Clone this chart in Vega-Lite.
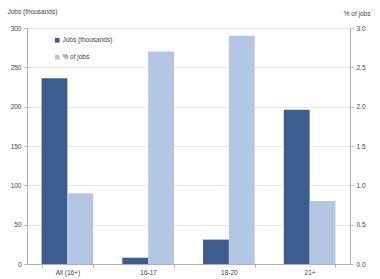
{
  "$schema": "https://vega.github.io/schema/vega-lite/v6.json",
  "width": 323,
  "height": 236,
  "autosize": {"type": "none"},
  "padding": {"left": 27, "top": 28, "right": 30, "bottom": 15},
  "background": "white",
  "config": {
    "view": {"stroke": null},
    "font": "Liberation Sans",
    "axis": {"labelFontSize": 6.5, "labelColor": "#444", "titleFontSize": 6.5, "titleFontWeight": "normal", "titleColor": "#444", "domainColor": "#b0b0b0", "tickColor": "#b0b0b0", "gridColor": "#e6e6e6"}
  },
  "data": {
    "values": [
      {"group": "All (16+)", "series": "Jobs (thousands)", "value": 236},
      {"group": "16-17", "series": "Jobs (thousands)", "value": 8},
      {"group": "18-20", "series": "Jobs (thousands)", "value": 31},
      {"group": "21+", "series": "Jobs (thousands)", "value": 196},
      {"group": "All (16+)", "series": "% of jobs", "value": 0.9},
      {"group": "16-17", "series": "% of jobs", "value": 2.7},
      {"group": "18-20", "series": "% of jobs", "value": 2.9},
      {"group": "21+", "series": "% of jobs", "value": 0.8}
    ]
  },
  "encoding": {
    "x": {"field": "group", "type": "nominal", "sort": null,
      "scale": {"paddingInner": 0.36, "paddingOuter": 0.18},
      "axis": {"title": null, "labelAngle": 0, "tickBand": "extent", "tickSize": 3, "labelPadding": 2}},
    "xOffset": {"field": "series", "type": "nominal", "scale": {"domain": ["Jobs (thousands)", "% of jobs"], "paddingInner": 0, "paddingOuter": 0}},
    "color": {"field": "series", "type": "nominal",
      "scale": {"domain": ["Jobs (thousands)", "% of jobs"], "range": ["#3b5e8f", "#b3c7e5"]},
      "legend": {"title": null, "orient": "none", "legendX": 27, "legendY": 9, "symbolType": "square", "symbolSize": 22, "symbolStrokeWidth": 0, "labelFontSize": 6.5, "labelColor": "#444", "rowPadding": 10, "labelOffset": 2}}
  },
  "layer": [
    {
      "transform": [{"filter": "datum.series === 'Jobs (thousands)'"}],
      "mark": {"type": "bar"},
      "encoding": {
        "y": {"field": "value", "type": "quantitative",
          "scale": {"domain": [0, 300], "nice": false},
          "axis": {"values": [0, 50, 100, 150, 200, 250, 300], "title": "Jobs (thousands)", "titleAngle": 0, "titleAlign": "left", "titleBaseline": "bottom", "titleX": -20, "titleY": -14, "tickSize": 3, "labelPadding": 3, "grid": true}}
      }
    },
    {
      "transform": [{"filter": "datum.series === '% of jobs'"}],
      "mark": {"type": "bar"},
      "encoding": {
        "y": {"field": "value", "type": "quantitative",
          "scale": {"domain": [0, 3], "nice": false},
          "axis": {"orient": "right", "values": [0, 0.5, 1, 1.5, 2, 2.5, 3], "format": ".1f", "title": "% of jobs", "titleAngle": 0, "titleAlign": "right", "titleBaseline": "bottom", "titleX": 20, "titleY": -12, "tickSize": 3, "labelPadding": 3, "grid": false}}
      }
    }
  ],
  "resolve": {"scale": {"y": "independent"}}
}
